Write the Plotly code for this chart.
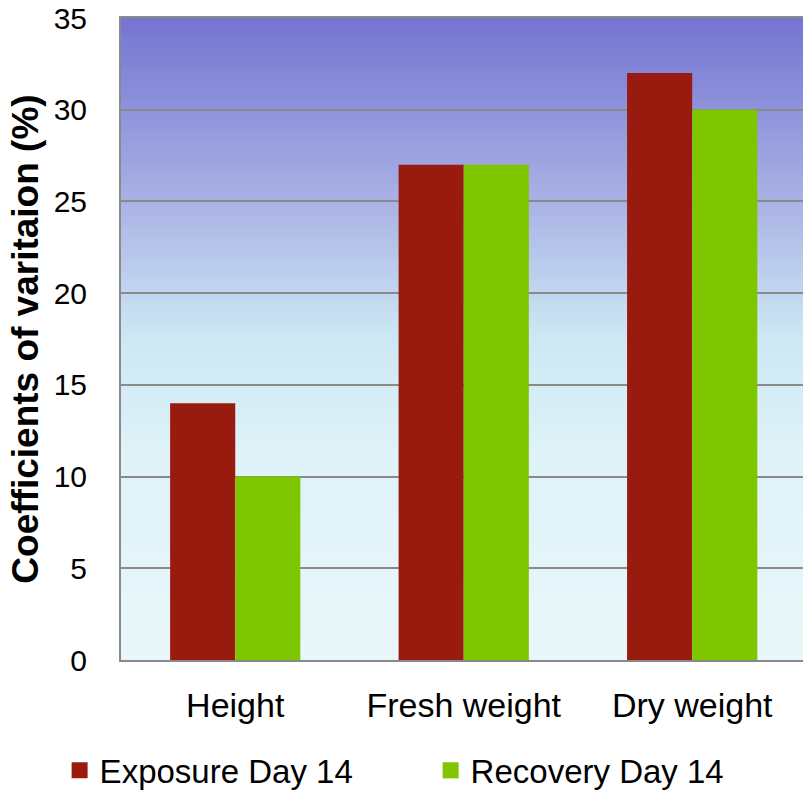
import plotly.graph_objects as go

categories = ["Height", "Fresh weight", "Dry weight"]
exposure_day14 = [14, 27, 32]
recovery_day14 = [10, 27, 30]
y_ticks = [0, 5, 10, 15, 20, 25, 30, 35]

RED = "#991A0E"
GREEN = "#7DC600"
FONT = "Liberation Sans, Arial, sans-serif"

fig = go.Figure()
fig.add_trace(go.Bar(x=categories, y=exposure_day14, name="Exposure Day 14",
                     marker=dict(color=RED, line=dict(width=0)), showlegend=False))
fig.add_trace(go.Bar(x=categories, y=recovery_day14, name="Recovery Day 14",
                     marker=dict(color=GREEN, line=dict(width=0)), showlegend=False))
# legend entries with larger square symbols
fig.add_trace(go.Scatter(x=[None], y=[None], mode="markers", name="Exposure Day 14",
                         marker=dict(symbol="square", size=20, color=RED)))
fig.add_trace(go.Scatter(x=[None], y=[None], mode="markers", name="Recovery Day 14",
                         marker=dict(symbol="square", size=20, color=GREEN)))

# vertical gradient background (top blue-violet -> bottom pale cyan)
stops = [(0.0, (116, 116, 210)), (0.28, (168, 176, 228)), (0.5, (205, 232, 244)),
         (0.68, (222, 242, 248)), (1.0, (234, 247, 250))]

def col_at(t):
    for (t0, c0), (t1, c1) in zip(stops[:-1], stops[1:]):
        if t0 <= t <= t1:
            f = (t - t0) / (t1 - t0)
            return "rgb(%d,%d,%d)" % tuple(round(a + (b - a) * f) for a, b in zip(c0, c1))
    return "rgb(%d,%d,%d)" % stops[-1][1]

n = 100
shapes = []
for i in range(n):
    y0 = 1 - (i + 1) / n
    y1 = 1 - i / n + 0.002
    t = (i + 0.5) / n
    shapes.append(dict(type="rect", xref="x domain", yref="y domain",
                       x0=0, x1=1, y0=y0, y1=min(y1, 1), fillcolor=col_at(t),
                       line=dict(width=0), layer="below"))

fig.update_layout(
    width=803, height=791,
    margin=dict(l=121, r=0, t=18, b=131, autoexpand=False),
    paper_bgcolor="white",
    plot_bgcolor="rgba(0,0,0,0)",
    shapes=shapes,
    barmode="group",
    bargap=0.43,
    bargroupgap=0,
    font=dict(family=FONT, color="black"),
    showlegend=True,
    legend=dict(orientation="h", x=-0.09, xanchor="left", y=-0.172, yanchor="middle",
                font=dict(size=33, family=FONT), entrywidth=326, entrywidthmode="pixels",
                itemsizing="trace", bgcolor="rgba(0,0,0,0)"),
    xaxis=dict(range=[-0.5, 2.485], showline=True, linecolor="#8a8a8a", linewidth=2,
               mirror=True, ticks="", tickfont=dict(size=34), ticklabelstandoff=14,
               showgrid=False, automargin=False),
    yaxis=dict(range=[0, 35], tickvals=y_ticks, showline=True, linecolor="#8a8a8a",
               linewidth=2, mirror=True, showgrid=True, gridcolor="#8a8a8a", gridwidth=1.5,
               ticks="", tickfont=dict(size=30), ticklabelstandoff=26, automargin=False,
               ticklabeloverflow="allow",
               title=dict(text="<b>Coefficients of varitaion (%)</b>",
                          font=dict(size=37, family=FONT), standoff=4),
               zeroline=False),
)

fig.write_html(
    "out.html",
    config={"displayModeBar": False},
    post_script="document.body.style.margin='0';document.body.style.overflow='hidden';",
)
